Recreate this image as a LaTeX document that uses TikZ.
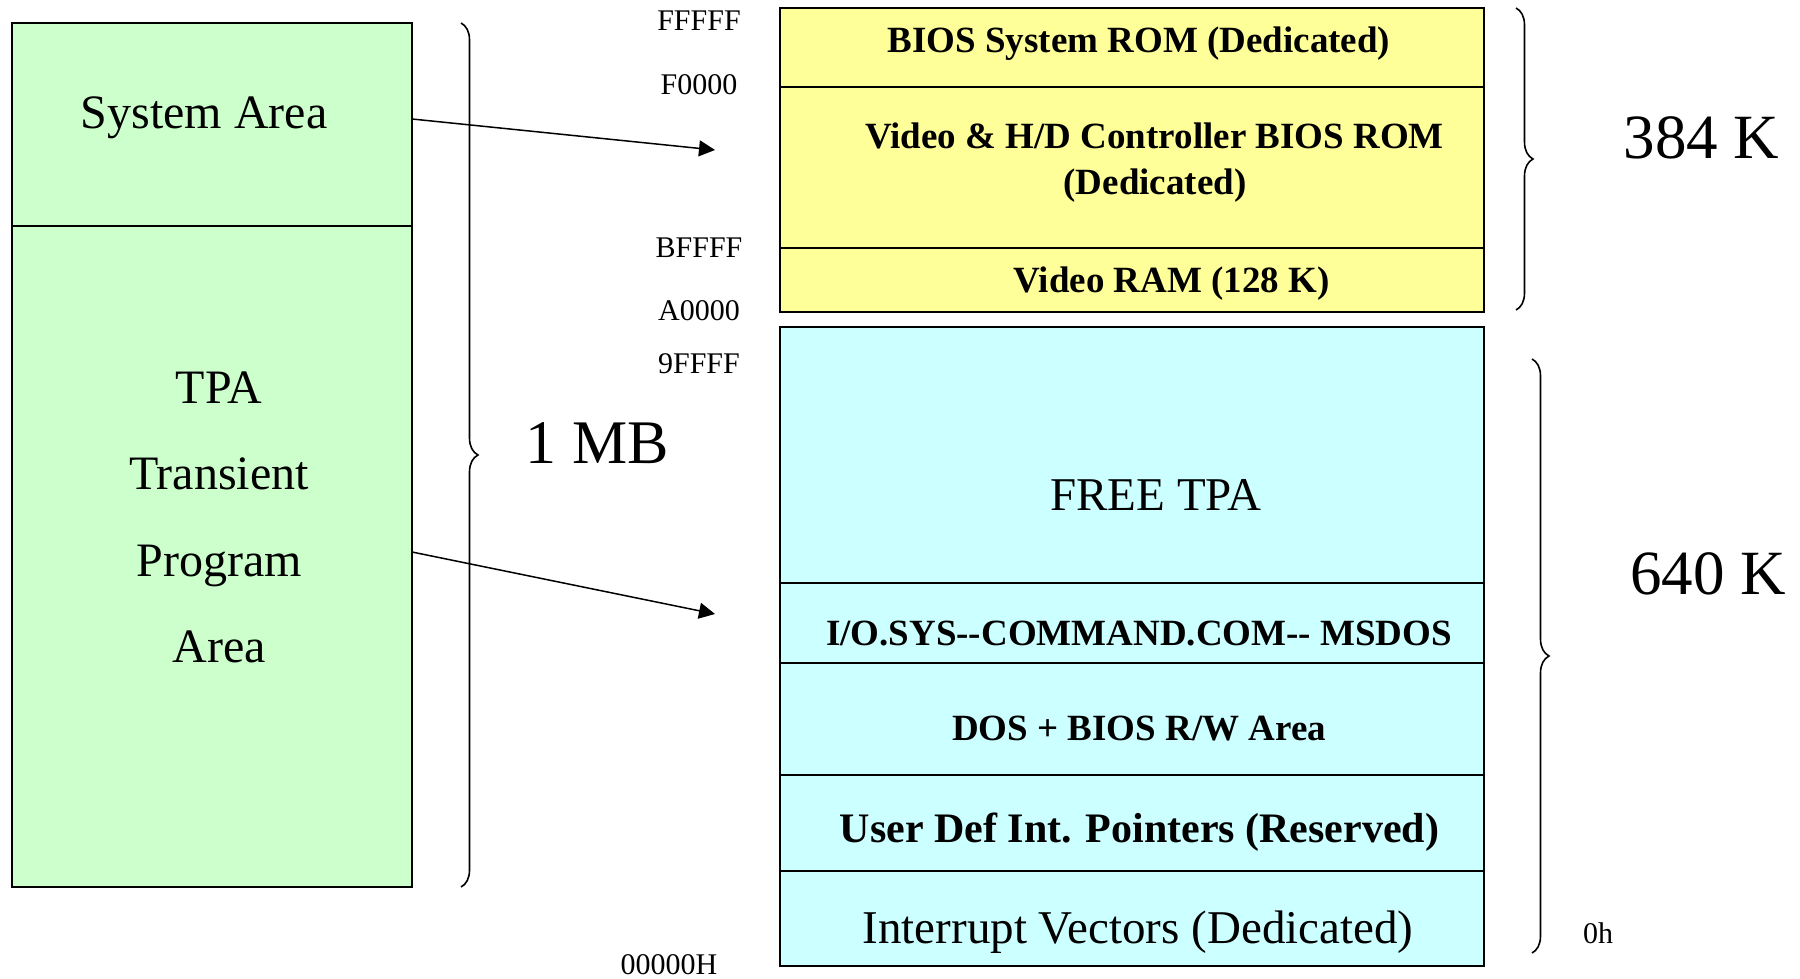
\documentclass[tikz,border=0pt]{standalone}
\usepackage{fontspec}
\setmainfont{Liberation Serif}
\usetikzlibrary{arrows.meta,decorations.pathreplacing}

\tikzset{
  region/.style={draw=black, line width=1pt, inner sep=0pt, outer sep=0pt},
  sysfill/.style={region, fill=green1},
  romfill/.style={region, fill=yellow1},
  ramfill/.style={region, fill=cyan1},
  lbl/.style={inner sep=0pt, anchor=base, align=center},
  plainbig/.style={lbl, font=\fontsize{24pt}{28pt}\selectfont},
  plainmid/.style={lbl, font=\fontsize{23.5pt}{28pt}\selectfont},
  boldlbl/.style={lbl, font=\fontsize{18.5pt}{22pt}\selectfont\bfseries},
  boldbig/.style={lbl, font=\fontsize{21pt}{25pt}\selectfont\bfseries},
  addr/.style={lbl, font=\fontsize{15pt}{18pt}\selectfont},
  sizelbl/.style={lbl, font=\fontsize{31.5pt}{36pt}\selectfont},
  pointer/.style={line width=0.75pt, -{Triangle[length=8pt,width=8pt]}},
  curly/.style={line width=0.8pt, decorate, decoration={brace, amplitude=8.5pt}},
}
\definecolor{green1}{HTML}{CCFFCC}
\definecolor{yellow1}{HTML}{FFFF99}
\definecolor{cyan1}{HTML}{CCFFFF}

\begin{document}
\begin{tikzpicture}[x=0.5pt, y=-0.5pt]
\useasboundingbox (0,0) rectangle (1800,979);

% left: the whole 1 MB address space
\node[sysfill, minimum width=200.25pt, minimum height=101.5pt] (sys) at (211.75,124.5) {};
\node[sysfill, minimum width=200.25pt, minimum height=330.5pt] (tpa) at (211.75,556.5) {};
\node[plainbig] (systxt) at (204,129) {System Area};
\node[plainbig] (tpa1) at (219,403) {TPA};
\node[plainbig] (tpa2) at (219,489.5) {Transient};
\node[plainbig] (tpa3) at (219,576) {Program};
\node[plainbig] (tpa4) at (219,662.5) {Area};

% brace over the whole space
\coordinate (mbtop) at (461,23);
\coordinate (mbbot) at (461,887);
\draw[curly] (mbtop) -- (mbbot);
\node[lbl, font=\fontsize{31pt}{36pt}\selectfont] (mb) at (597,463) {1 MB};

% right: upper 384 K (system area)
\node[romfill, minimum width=352pt, minimum height=39.5pt] (bios) at (1132,47.5) {};
\node[romfill, minimum width=352pt, minimum height=80.5pt] (vbios) at (1132,167.5) {};
\node[romfill, minimum width=352pt, minimum height=31.75pt] (vram) at (1132,279.75) {};
\node[boldlbl] (biostxt) at (1139,52.7) {BIOS System ROM (Dedicated)};
\node[boldlbl] (vbiostxt1) at (1154.5,148.3) {Video \& H/D Controller BIOS ROM};
\node[boldlbl] (vbiostxt2) at (1155,194.5) {(Dedicated)};
\node[boldlbl] (vramtxt) at (1171.5,292) {Video RAM (128 K)};

% right: lower 640 K (transient program area)
\node[ramfill, minimum width=352pt, minimum height=128pt] (free) at (1132,455) {};
\node[ramfill, minimum width=352pt, minimum height=40pt] (iosys) at (1132,623) {};
\node[ramfill, minimum width=352pt, minimum height=56pt] (dosrw) at (1132,719) {};
\node[ramfill, minimum width=352pt, minimum height=47.75pt] (userdef) at (1132,822.75) {};
\node[ramfill, minimum width=352pt, minimum height=47.75pt] (ivt) at (1132,918.25) {};
\node[plainmid] (freetxt) at (1156,510.8) {FREE TPA};
\node[boldlbl] (iosystxt) at (1139,645) {I/O.SYS-{}-COMMAND.COM-{}- MSDOS};
\node[boldlbl] (dosrwtxt) at (1139,740.5) {DOS + BIOS R/W Area};
\node[boldbig] (userdeftxt) at (1139.5,842) {User Def Int. Pointers (Reserved)};
\node[plainmid] (ivttxt) at (1138,943) {Interrupt Vectors (Dedicated)};

% addresses
\node[addr] (aFFFFF) at (699,30.7) {FFFFF};
\node[addr] (aF0000) at (699,95) {F0000};
\node[addr] (aBFFFF) at (699,257) {BFFFF};
\node[addr] (aA0000) at (699,320) {A0000};
\node[addr] (a9FFFF) at (699,373) {9FFFF};
\node[addr] (a00000) at (669,974) {00000H};
\node[addr] (a0h) at (1598,943.5) {0h};

% pointers from the left map to the detailed map
\coordinate (sysend) at (715,150);
\coordinate (tpaend) at (715,614);
\draw[pointer] ([yshift=2.75pt]sys.east) -- (sysend);
\draw[pointer] ([yshift=2.25pt]tpa.east) -- (tpaend);

% size braces
\coordinate (hitop) at (1516,8);
\coordinate (hibot) at (1516,310);
\coordinate (lotop) at (1532,359);
\coordinate (lobot) at (1532,953);
\draw[curly] (hitop) -- (hibot);
\draw[curly] (lotop) -- (lobot);
\node[sizelbl] (k384) at (1701.5,159) {384 K};
\node[sizelbl] (k640) at (1708,594) {640 K};
\end{tikzpicture}
\end{document}
